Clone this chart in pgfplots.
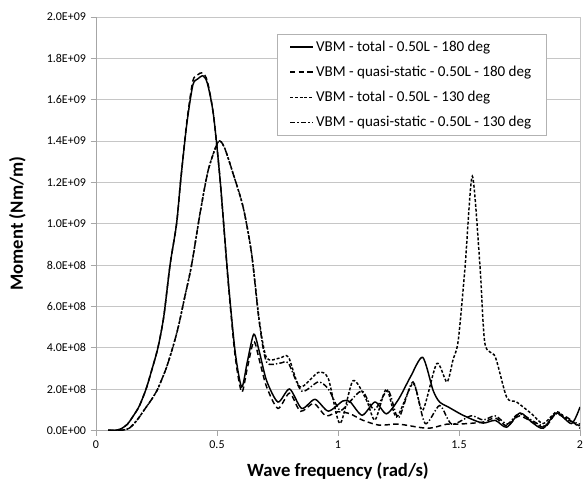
\documentclass[border=0pt]{standalone}
\usepackage{fontspec}
\setmainfont{Carlito}
\usepackage{pgfplots}
\pgfplotsset{compat=1.18}

% values in units of 1e8 Nm/m
\pgfplotstableread{
f M
0.05 0
0.08 0
0.10 0.05
0.13 0.3
0.16 0.8
0.18 1.2
0.207 2.0
0.23 2.9
0.256 4.0
0.28 5.5
0.306 8.0
0.333 10.0
0.35 12.1
0.375 14.8
0.40 16.7
0.42 17.0
0.442 17.15
0.46 16.8
0.485 15.3
0.513 12.1
0.546 7.3
0.575 3.8
0.602 2.1
0.625 3.3
0.652 4.65
0.675 3.8
0.705 2.4
0.752 1.37
0.80 2.0
0.85 1.06
0.905 1.5
0.96 0.93
1.02 1.42
1.05 1.38
1.10 0.73
1.153 1.37
1.20 0.8
1.25 1.5
1.30 2.6
1.35 3.53
1.393 1.93
1.42 1.37
1.46 1.1
1.505 0.8
1.55 0.55
1.60 0.35
1.65 0.48
1.697 0.15
1.752 0.84
1.80 0.4
1.848 0.1
1.903 0.84
1.965 0.33
2.0 1.13
}\totalA

\pgfplotstableread{
f M
0.05 0
0.08 0
0.10 0.05
0.13 0.3
0.16 0.8
0.18 1.2
0.207 2.0
0.23 2.9
0.256 4.0
0.28 5.5
0.306 8.0
0.333 10.0
0.35 12.1
0.375 14.9
0.40 16.9
0.42 17.2
0.44 17.3
0.46 16.9
0.485 15.3
0.513 12.1
0.546 7.2
0.575 3.6
0.602 1.85
0.625 3.0
0.652 4.3
0.675 3.4
0.705 2.1
0.752 1.06
0.80 1.8
0.845 0.92
0.90 1.3
0.95 0.7
1.0 0.9
1.05 0.8
1.10 0.5
1.17 0.25
1.25 0.3
1.37 0.1
1.45 0.3
1.50 0.3
1.60 0.4
1.65 0.6
1.70 0.2
1.75 0.7
1.85 0.15
1.90 0.8
1.95 0.6
2.0 0.1
}\quasiA

\pgfplotstableread{
f M
0.05 0
0.10 0
0.137 0.1
0.17 0.5
0.20 1.0
0.23 1.5
0.255 2.0
0.29 3.0
0.317 4.0
0.34 5.0
0.364 6.3
0.395 8.0
0.43 10.5
0.464 12.6
0.505 13.96
0.53 13.7
0.567 12.4
0.608 10.8
0.643 8.55
0.675 5.3
0.705 3.5
0.76 3.5
0.795 3.55
0.843 2.1
0.918 2.8
0.96 2.5
1.008 0.33
1.062 2.4
1.118 1.45
1.153 0.5
1.20 2.0
1.242 0.65
1.31 2.27
1.35 0.97
1.408 3.23
1.45 2.34
1.475 3.4
1.497 4.36
1.525 7.9
1.555 12.3
1.587 7.9
1.607 4.2
1.65 3.55
1.697 1.6
1.738 1.37
1.80 0.8
1.848 0.33
1.903 0.9
1.94 0.6
2.0 0.2
}\totalB

\pgfplotstableread{
f M
0.05 0
0.10 0
0.137 0.1
0.17 0.5
0.20 1.0
0.23 1.5
0.255 2.0
0.29 3.0
0.317 4.0
0.34 5.0
0.364 6.3
0.395 8.0
0.43 10.5
0.464 12.6
0.505 13.96
0.53 13.7
0.567 12.4
0.608 10.8
0.643 8.55
0.675 5.2
0.705 3.3
0.76 3.25
0.795 3.25
0.85 1.9
0.918 2.34
0.96 2.0
1.008 0.97
1.05 1.4
1.10 1.9
1.15 1.0
1.207 1.93
1.25 0.6
1.31 2.34
1.36 0.33
1.42 1.2
1.47 0.3
1.55 0.7
1.60 0.5
1.65 0.7
1.70 0.3
1.75 0.8
1.85 0.2
1.90 0.8
1.95 0.5
2.0 0.3
}\quasiB

\begin{document}
\begin{tikzpicture}
\begin{axis}[
  scale only axis,
  width=363pt,
  height=310pt,
  xmin=0, xmax=2,
  ymin=0, ymax=20,
  xtick={0,0.5,1,1.5,2},
  xticklabels={0,0.5,1,1.5,2},
  ytick={0,2,4,6,8,10,12,14,16,18,20},
  yticklabels={0.0E+00,2.0E+08,4.0E+08,6.0E+08,8.0E+08,1.0E+09,1.2E+09,1.4E+09,1.6E+09,1.8E+09,2.0E+09},
  extra x ticks={2},
  extra x tick labels={},
  extra x tick style={grid=major, major tick length=0pt},
  axis lines*=left,
  axis line style={gray!70, line width=0.6pt},
  tick style={gray!70, line width=0.6pt},
  tick align=outside,
  major tick length=4pt,
  ymajorgrids=true,
  grid style={gray!45, line width=0.6pt},
  tick label style={font=\small, text=black},
  /pgf/number format/assume math mode=true,
  xlabel={\bfseries Wave frequency (rad/s)},
  ylabel={\bfseries Moment (Nm/m)},
  label style={font=\fontsize{14}{16}\selectfont},
  xlabel style={yshift=0pt},
  ylabel style={yshift=9pt},
  legend cell align=left,
  legend style={
    at={(rel axis cs:0.374,0.959)}, anchor=north west,
    draw=gray!60, fill=white, font=\fontsize{11.3}{13}\selectfont,
    row sep=5.5pt, inner xsep=9pt, inner ysep=3pt,
  },
  legend image code/.code={\draw[#1] (0pt,0pt) -- (17pt,0pt);},
  every axis plot/.append style={black, line width=1.1pt, smooth, tension=0.45, no marks},
]
\addplot[solid] table[x=f, y=M] {\totalA};
\addplot[dash pattern=on 4pt off 2.5pt] table[x=f, y=M] {\quasiA};
\addplot[dash pattern=on 2.2pt off 1.4pt] table[x=f, y=M] {\totalB};
\addplot[dash pattern=on 4pt off 1.6pt on 1pt off 1.6pt] table[x=f, y=M] {\quasiB};
\legend{VBM - total - 0.50L - 180 deg,
        VBM - quasi-static - 0.50L - 180 deg,
        VBM - total - 0.50L - 130 deg,
        VBM - quasi-static - 0.50L - 130 deg}
\end{axis}
\pgfresetboundingbox
\path ([shift={(-72pt,-39.75pt)}]current axis.south west) rectangle ([shift={(2.25pt,12.75pt)}]current axis.north east);
\end{tikzpicture}
\end{document}
